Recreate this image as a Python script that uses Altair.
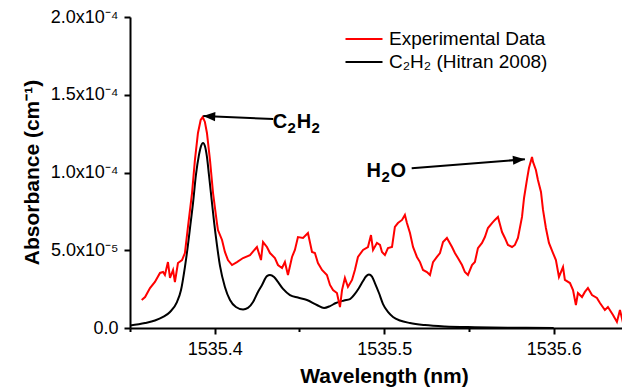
import json
import altair as alt
import pandas as pd

# ---------------- data (absorbance in units of 1e-5 cm^-1) ----------------
red_wl = [1535.3569, 1535.3589, 1535.3618, 1535.3647, 1535.3677, 1535.3695, 1535.3706, 1535.3724, 1535.3736, 1535.3754,
          1535.3765, 1535.3783, 1535.3807, 1535.3824, 1535.3842, 1535.3866, 1535.3883, 1535.3901, 1535.3917, 1535.3929,
          1535.3942, 1535.3954, 1535.3972, 1535.3990, 1535.4013, 1535.4019, 1535.4043, 1535.4060, 1535.4078, 1535.4102,
          1535.4131, 1535.4167, 1535.4208, 1535.4249, 1535.4273, 1535.4285, 1535.4308, 1535.4326, 1535.4355, 1535.4373,
          1535.4397, 1535.4414, 1535.4432, 1535.4456, 1535.4473, 1535.4491, 1535.4521, 1535.4550, 1535.4574, 1535.4591,
          1535.4609, 1535.4633, 1535.4662, 1535.4680, 1535.4698, 1535.4721, 1535.4739, 1535.4751, 1535.4768, 1535.4786,
          1535.4810, 1535.4827, 1535.4845, 1535.4875, 1535.4904, 1535.4922, 1535.4934, 1535.4957, 1535.4975, 1535.4987,
          1535.5004, 1535.5022, 1535.5046, 1535.5063, 1535.5081, 1535.5105, 1535.5122, 1535.5134, 1535.5152, 1535.5170,
          1535.5193, 1535.5211, 1535.5229, 1535.5252, 1535.5270, 1535.5288, 1535.5311, 1535.5329, 1535.5347, 1535.5370,
          1535.5400, 1535.5417, 1535.5435, 1535.5459, 1535.5476, 1535.5494, 1535.5518, 1535.5535, 1535.5553, 1535.5577,
          1535.5594, 1535.5612, 1535.5636, 1535.5653, 1535.5671, 1535.5695, 1535.5712, 1535.5730, 1535.5754, 1535.5771,
          1535.5789, 1535.5813, 1535.5825, 1535.5842, 1535.5854, 1535.5872, 1535.5878, 1535.5895, 1535.5907, 1535.5925,
          1535.5937, 1535.5954, 1535.5972, 1535.5996, 1535.6013, 1535.6031, 1535.6055, 1535.6066, 1535.6096, 1535.6114,
          1535.6131, 1535.6143, 1535.6167, 1535.6184, 1535.6202, 1535.6226, 1535.6255, 1535.6273, 1535.6302, 1535.6320,
          1535.6350, 1535.6373, 1535.6391, 1535.6409, 1535.6426, 1535.6450]
red_abs = [1.80, 1.99, 2.57, 2.96, 3.54, 3.60, 3.41, 4.24, 3.22, 3.73,
           2.96, 4.18, 4.37, 4.82, 6.50, 8.68, 10.80, 12.54, 13.38, 13.57,
           13.25, 12.54, 10.80, 8.68, 6.75, 6.30, 5.66, 4.89, 4.37, 4.05,
           4.24, 4.50, 4.69, 5.21, 4.37, 5.53, 5.21, 4.82, 4.50, 4.05,
           3.86, 4.24, 3.41, 4.57, 5.02, 5.85, 5.79, 6.11, 4.89, 4.82,
           4.18, 3.73, 3.41, 2.77, 2.44, 2.25, 1.35, 2.44, 3.22, 2.64,
           3.09, 3.73, 4.57, 5.02, 5.21, 5.98, 5.02, 5.47, 5.34, 4.89,
           4.69, 5.14, 5.21, 6.50, 6.75, 6.95, 7.27, 6.75, 6.11, 5.21,
           4.57, 4.24, 3.73, 3.60, 3.41, 4.24, 4.57, 4.82, 5.53, 5.79,
           5.21, 4.82, 4.50, 4.05, 3.60, 3.41, 4.05, 4.24, 5.14, 5.47,
           5.85, 6.43, 6.75, 6.95, 7.14, 6.17, 5.79, 5.34, 5.21, 5.34,
           5.79, 7.14, 8.36, 9.52, 10.29, 11.00, 10.68, 10.16, 9.52, 8.75,
           7.59, 6.43, 5.47, 4.82, 4.37, 3.28, 3.92, 3.09, 2.89, 2.44,
           1.48, 2.25, 1.99, 2.32, 2.57, 2.12, 1.93, 1.61, 1.16, 1.35,
           0.84, 0.39, 1.16, 0.32, 0.96, 0.84]

hitran_wl = [1535.3500, 1535.3589, 1535.3647, 1535.3695, 1535.3736, 1535.3777, 1535.3801, 1535.3824, 1535.3842, 1535.3854,
             1535.3872, 1535.3889, 1535.3907, 1535.3919, 1535.3931, 1535.3942, 1535.3954, 1535.3966, 1535.3982, 1535.3996,
             1535.4013, 1535.4031, 1535.4060, 1535.4090, 1535.4125, 1535.4167, 1535.4196, 1535.4226, 1535.4255, 1535.4279,
             1535.4308, 1535.4326, 1535.4350, 1535.4373, 1535.4403, 1535.4444, 1535.4491, 1535.4544, 1535.4603, 1535.4645,
             1535.4680, 1535.4715, 1535.4763, 1535.4798, 1535.4827, 1535.4851, 1535.4875, 1535.4892, 1535.4910, 1535.4928,
             1535.4945, 1535.4969, 1535.4993, 1535.5022, 1535.5052, 1535.5093, 1535.5152, 1535.5240, 1535.5358, 1535.5535,
             1535.5742, 1535.6000]
hitran_abs = [0.16, 0.32, 0.48, 0.71, 1.03, 1.67, 2.44, 3.92, 5.34, 6.43,
              8.04, 9.84, 11.13, 11.70, 11.90, 11.70, 11.00, 9.84, 8.23, 6.82,
              5.34, 3.99, 2.64, 1.80, 1.35, 1.19, 1.29, 1.67, 2.32, 2.77,
              3.34, 3.41, 3.28, 2.96, 2.51, 2.12, 1.96, 1.80, 1.48, 1.29,
              1.41, 1.61, 1.77, 1.86, 2.19, 2.57, 3.02, 3.31, 3.44, 3.31,
              2.89, 2.25, 1.54, 1.03, 0.71, 0.48, 0.32, 0.19, 0.10, 0.05,
              0.02, 0.00]

series_names = ["Experimental Data", "C\u2082H\u2082 (Hitran 2008)"]
series_colors = ["#ff0000", "#000000"]

x_ticks = [1535.35, 1535.40, 1535.45, 1535.50, 1535.55, 1535.60]
x_labels = ["", "1535.4", "", "1535.5", "", "1535.6"]
y_ticks = [0, 2.5e-5, 5e-5, 7.5e-5, 1e-4, 1.25e-4, 1.5e-4, 1.75e-4, 2e-4]
y_labels = ["0.0", "", "5.0x10\u207b\u2075", "", "1.0x10\u207b\u2074", "", "1.5x10\u207b\u2074", "", "2.0x10\u207b\u2074"]

# annotation labels: anchor (data coords) and text pieces (subscripts kept as separate pieces)
ann_anchor_wl = [1535.4342, 1535.4896]
ann_anchor_abs = [12.84, 9.69]
ann_pieces = [["C", "2", "H", "2"], ["H", "2", "O"]]
ann_is_sub = [[False, True, False, True], [False, True, False]]

arrow_tail_wl = [1535.4345, 1535.5162]
arrow_tail_abs = [13.44, 10.27]
arrow_head_wl = [1535.3932, 1535.5830]
arrow_head_abs = [13.63, 10.85]
arrow_angle = [182.5, 355.5]

FONT = "Liberation Sans"

# ---------------- tables ----------------
df_red = pd.DataFrame({"wl": red_wl, "abs": [v * 1e-5 for v in red_abs], "series": series_names[0]})
df_hit = pd.DataFrame({"wl": hitran_wl, "abs": [v * 1e-5 for v in hitran_abs], "series": series_names[1]})
df_arrow = pd.DataFrame({
    "tw": arrow_tail_wl, "ta": [v * 1e-5 for v in arrow_tail_abs],
    "hw": arrow_head_wl, "ha": [v * 1e-5 for v in arrow_head_abs],
    "ang": arrow_angle,
})

xscale = alt.Scale(domain=[1535.35, 1535.6403], nice=False, zero=False)
yscale = alt.Scale(domain=[0, 2e-4], nice=False, zero=False)

x_expr = f"{json.dumps(x_labels, ensure_ascii=False)}[round((datum.value - 1535.35) / 0.05)]"
y_expr = f"{json.dumps(y_labels, ensure_ascii=False)}[round(datum.value / 2.5e-5)]"

x_axis = alt.Axis(
    values=x_ticks, labelExpr=x_expr, title="Wavelength (nm)", grid=False,
    tickSize={"condition": {"test": "round((datum.value - 1535.35) / 0.05) % 2 == 1", "value": 6}, "value": 3.5},
    labelBaseline="alphabetic", labelPadding=20, labelFlush=False, labelOverlap=False,
    titleX=254, titleY=54, titleAnchor="start", titleAlign="center", titleBaseline="alphabetic",
)
y_axis = alt.Axis(
    values=y_ticks, labelExpr=y_expr, title="Absorbance (cm\u207b\u00b9)", grid=False,
    tickSize={"condition": {"test": "round(datum.value / 2.5e-5) % 2 == 0", "value": 6}, "value": 3.5},
    labelPadding=6, labelFlush=False, labelOverlap=False,
    titleX=-92, titleY=155, titleAngle=270, titleAnchor="start", titleAlign="center", titleBaseline="alphabetic",
)

color = alt.Color(
    "series:N",
    scale=alt.Scale(domain=series_names, range=series_colors),
    legend=alt.Legend(
        title=None, orient="none", legendX=223, legendY=11,
        symbolType="M -1.85 0 L 1.85 0", symbolSize=400, symbolStrokeWidth=2,
        labelFontSize=19, labelFont=FONT, labelColor="black", labelOffset=14,
        rowPadding=2, padding=0,
    ),
)

hit_layer = alt.Chart(df_hit).mark_line(strokeWidth=2, clip=True, interpolate="monotone").encode(
    x=alt.X("wl:Q", scale=xscale, axis=x_axis),
    y=alt.Y("abs:Q", scale=yscale, axis=y_axis),
    color=color,
)
red_layer = alt.Chart(df_red).mark_line(strokeWidth=2, clip=True).encode(
    x=alt.X("wl:Q", scale=xscale),
    y=alt.Y("abs:Q", scale=yscale),
    color=color,
)
arrow_lines = alt.Chart(df_arrow).mark_rule(strokeWidth=2, color="black").encode(
    x="tw:Q", x2="hw:Q", y="ta:Q", y2="ha:Q",
)
arrow_heads = alt.Chart(df_arrow).mark_point(
    shape="M 0 0 L -1 -0.38 L -1 0.38 Z", filled=True, size=576, color="black", opacity=1, strokeWidth=0,
).encode(
    x="hw:Q", y="ha:Q", angle=alt.Angle("ang:Q", scale=None),
)

# text pieces laid out left to right with pixel advances (style, not data)
MAIN_SIZE, SUB_SIZE, SUB_DROP = 20, 15, 5
ADV = {"C": 14.8, "H": 14.8, "O": 15.8, "2": 9.2}
text_layers = []
for wl, ab, pieces, subs in zip(ann_anchor_wl, ann_anchor_abs, ann_pieces, ann_is_sub):
    dx = 0.0
    for p, s in zip(pieces, subs):
        d = pd.DataFrame({"wl": [wl], "abs": [ab * 1e-5], "t": [p]})
        text_layers.append(
            alt.Chart(d).mark_text(
                align="left", baseline="alphabetic", fontWeight="bold", font=FONT, color="black",
                fontSize=SUB_SIZE if s else MAIN_SIZE, dx=dx, dy=SUB_DROP if s else 0,
            ).encode(x="wl:Q", y="abs:Q", text="t:N")
        )
        dx += ADV[p]

chart = alt.layer(hit_layer, red_layer, arrow_lines, arrow_heads, *text_layers).properties(
    width=492, height=311,
    padding={"left": 122, "top": 9, "right": 0, "bottom": 60},
    autosize=alt.AutoSizeParams(type="none"),
).configure_view(stroke=None).configure_axis(
    domainColor="black", domainWidth=2, tickColor="black", tickWidth=2,
    labelFont=FONT, labelFontSize=18, labelColor="black",
    titleFont=FONT, titleFontSize=21, titleFontWeight="bold", titleColor="black",
)

chart.save("out.html", embed_options={"renderer": "svg", "actions": False})
